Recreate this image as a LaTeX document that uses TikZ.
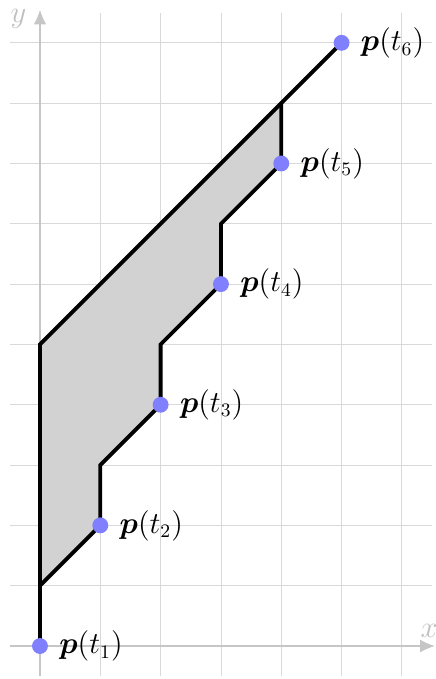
\documentclass[tikz,border=0pt]{standalone}
\usepackage{amsmath,bm}
\usetikzlibrary{arrows.meta}
\begin{document}
\begin{tikzpicture}[
  gridline/.style={gray!30, line width=0.4pt},
  axis/.style={gray!45, line width=0.8pt, -{Latex[length=7pt,width=6pt]}},
  axlabel/.style={text=gray!50, inner sep=0pt, font=\fontsize{13.5}{16}\selectfont},
  path/.style={black, line width=1.8pt, line join=miter},
  pt/.style={circle, fill=blue!50, inner sep=0pt, minimum size=7.5pt},
  plabel/.style={anchor=west, inner sep=0pt, xshift=5pt, font=\fontsize{13.5}{16}\selectfont}
]
\useasboundingbox (-0.663,-0.547) rectangle (6.55,10.71);
\draw[gridline] (-0.5,-0.5) grid (6.5,10.5);
\coordinate (xs) at (-0.5,0);
\coordinate (xe) at (6.55,0);
\coordinate (ys) at (0,-0.5);
\coordinate (ye) at (0,10.55);
\draw[axis] (xs) -- (xe);
\draw[axis] (ys) -- (ye);
\node[axlabel, anchor=south] (xl) at (6.45,0.13) {$x$};
\node[axlabel, anchor=east] (yl) at (-0.22,10.4) {$y$};

\fill[gray!35] (0,1) -- (1,2) -- (1,3) -- (2,4) -- (2,5) -- (3,6) -- (3,7) -- (4,8) -- (4,9) -- (0,5) -- cycle;
\draw[path] (0,0) -- (0,1) -- (1,2) -- (1,3) -- (2,4) -- (2,5) -- (3,6) -- (3,7) -- (4,8) -- (4,9);
\draw[path] (0,1) -- (0,5) -- (5,10);

\foreach \i/\x/\y in {1/0/0,2/1/2,3/2/4,4/3/6,5/4/8,6/5/10}{
  \node[pt] (p\i) at (\x,\y) {};
  \node[plabel] (l\i) at (p\i.east) {$\bm{p}(t_{\i})$};
}
\end{tikzpicture}
\end{document}
